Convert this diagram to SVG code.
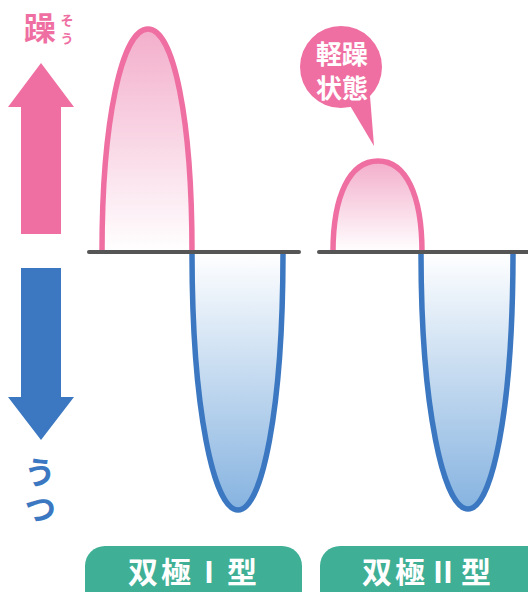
<svg xmlns="http://www.w3.org/2000/svg" width="528" height="592" viewBox="0 0 528 592">
<defs>
<linearGradient id="gPink" x1="0" y1="0" x2="0" y2="1">
<stop offset="0" stop-color="#f3aecb"/>
<stop offset="1" stop-color="#ffffff"/>
</linearGradient>
<linearGradient id="gBlue" x1="0" y1="0" x2="0" y2="1">
<stop offset="0" stop-color="#ffffff"/>
<stop offset="1" stop-color="#86b3e0"/>
</linearGradient>
<style>
.pink{fill:url(#gPink);stroke:#ef6fa2;stroke-width:5.5;stroke-linejoin:round}
.blue{fill:url(#gBlue);stroke:#3b78c1;stroke-width:5.5;stroke-linejoin:round}
.base{stroke:#555555;stroke-width:4;stroke-linecap:round;fill:none}
.jp{font-family:"Noto Sans CJK JP","Noto Sans",sans-serif;font-weight:bold;text-anchor:middle}
.lbl{fill:#3faf95}
.lt{fill:#ffffff;font-size:30px}
</style>
</defs>

<g id="axis-up">
<polygon points="41,63 74,107 61,107 61,234 21,234 21,107 8,107" fill="#ef6fa2"/>
<text class="jp" x="40" y="40" font-size="32" fill="#ef6fa2">躁</text>
<text class="jp" x="67" y="25" font-size="13" fill="#ef6fa2">そ</text>
<text class="jp" x="67" y="43" font-size="13" fill="#ef6fa2">う</text>
</g>

<g id="axis-down">
<polygon points="21,268 61,268 61,397 74,397 41,440 8,397 21,397" fill="#3b78c1"/>
<text class="jp" x="40" y="456" font-size="32" fill="#3b78c1" style="writing-mode:vertical-rl;text-anchor:start" letter-spacing="5">うつ</text>
</g>

<g id="wave1">
<path class="pink" d="M102,252 C102,120 122,29 148,29 C174,29 192,120 192,252"/>
<path class="blue" d="M192,252 C192,410 214,510 238,510 C262,510 283,410 283,252"/>
<line class="base" x1="89" y1="252" x2="299" y2="252"/>
</g>

<g id="wave2">
<path class="pink" d="M333,252 C333,195 350,161 378,161 C406,161 422,195 422,252"/>
<path class="blue" d="M421,252 C421,410 444,509 468,509 C492,509 513,410 513,252"/>
<line class="base" x1="319" y1="252" x2="528" y2="252"/>
</g>

<g id="bubble">
<circle cx="341" cy="67" r="41" fill="#ef6fa2"/>
<polygon points="349,104 370,96 374,146" fill="#ef6fa2"/>
<text class="jp" x="342" y="64" font-size="26" fill="#ffffff">軽躁</text>
<text class="jp" x="342" y="98" font-size="26" fill="#ffffff">状態</text>
</g>

<g id="label1">
<rect class="lbl" x="85" y="546" width="217" height="70" rx="20"/>
<text class="jp lt" x="194" y="583" letter-spacing="3">双極Ⅰ型</text>
</g>

<g id="label2">
<rect class="lbl" x="320" y="546" width="230" height="70" rx="20"/>
<text class="jp lt" x="428" y="583" letter-spacing="3">双極Ⅱ型</text>
</g>
</svg>
